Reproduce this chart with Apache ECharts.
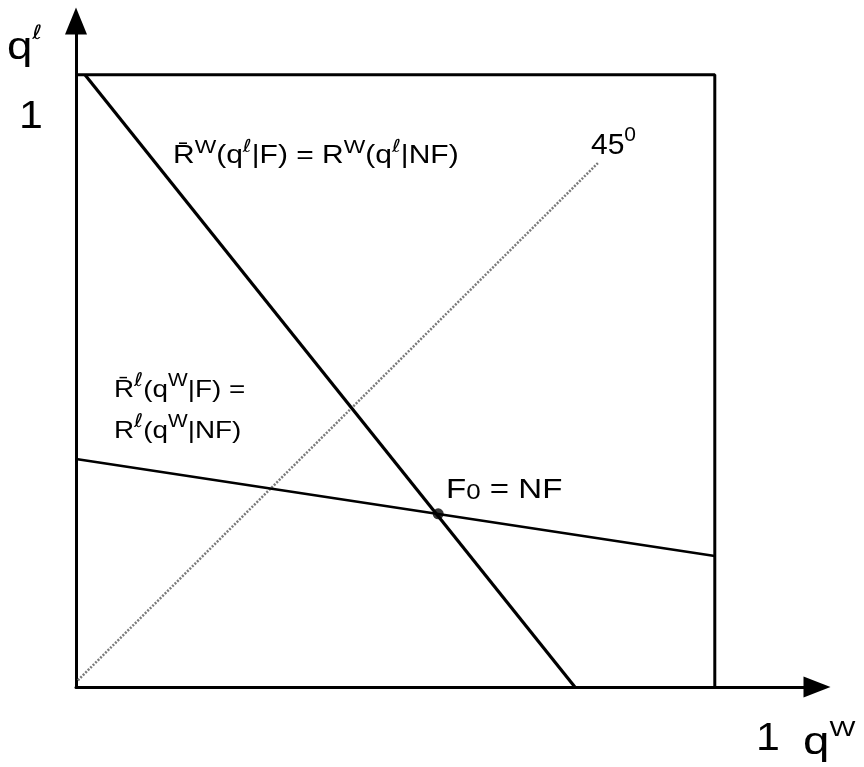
<!DOCTYPE html>
<html>
<head>
<meta charset="utf-8">
<script src="https://cdn.jsdelivr.net/npm/echarts@6/dist/echarts.min.js"></script>
<style>
    html, body { margin: 0; background: #fff; }
    #chart { width: 864px; height: 767px; }
</style>
</head>
<body>
<div id="chart"></div>
<script>
// unit box (q^w, q^l in [0,1]) and the two reaction curves
const boxEdge = [[0, 1], [1, 1], [1, 0]];
const wReaction = [[0.014, 1], [0.781, 0]];     // R^w(q^l | F) = R^w(q^l | NF)
const lReaction = [[0, 0.3725], [1, 0.214]];    // R^l(q^w | F) = R^l(q^w | NF)
const diagonal = [[0.003, 0.011], [0.817, 0.856]];  // 45 degree line
const equilibrium = [[0.567, 0.283]];           // F0 = NF
const xMax = 1.16;
const yMax = 1.088;

const FONT = "'Liberation Sans', Arial, sans-serif";
const ELL_FONT = "'DejaVu Sans', sans-serif";   // Liberation's script l is too small

// rich text styles: n = normal, s = superscript, l = superscript ell, b = subscript
function rich(size, supSize, supLH, subSize, subLH, ellSize, ellLH) {
    return {
        n: {fontSize: size, fontFamily: FONT, lineHeight: size + 6, verticalAlign: 'bottom', color: '#000'},
        s: {fontSize: supSize, fontFamily: FONT, lineHeight: supLH || supSize, verticalAlign: 'top', color: '#000'},
        l: {fontSize: ellSize || supSize, fontFamily: ELL_FONT, lineHeight: ellLH || supLH || supSize, verticalAlign: 'top', color: '#000'},
        b: {fontSize: subSize || supSize, fontFamily: FONT, lineHeight: subLH || supSize, verticalAlign: 'bottom', color: '#000'}
    };
}

// the scanned font is wider than Liberation Sans, so stretch a little
function label(x, y, text, r, sx) {
    return {
        type: 'text', x: x, y: y, scaleX: sx || 1, silent: true,
        style: {text: text, rich: r, verticalAlign: 'top', align: 'left', fill: '#000'}
    };
}

const lineSeries = (data, color, width, type) => ({
    type: 'line',
    data: data,
    showSymbol: false,
    silent: true,
    animation: false,
    lineStyle: {color: color, width: width, type: type || 'solid', cap: 'butt'}
});

const myChart = echarts.init(document.getElementById('chart'));

const options = {
    backgroundColor: '#fff',
    animation: false,
    grid: {left: 76, right: 47, top: 21, bottom: 80},
    xAxis: {
        type: 'value', min: 0, max: xMax,
        splitLine: {show: false}, axisTick: {show: false}, axisLabel: {show: false},
        axisLine: {
            show: true, onZero: false,
            symbol: ['none', 'triangle'], symbolSize: [21, 27], symbolOffset: [0, 0],
            lineStyle: {color: '#000', width: 3}
        }
    },
    yAxis: {
        type: 'value', min: 0, max: yMax,
        splitLine: {show: false}, axisTick: {show: false}, axisLabel: {show: false},
        axisLine: {
            show: true, onZero: false,
            symbol: ['none', 'triangle'], symbolSize: [22, 27], symbolOffset: [0, 0],
            lineStyle: {color: '#000', width: 3}
        }
    },
    series: [
        lineSeries(diagonal, '#7a7a7a', 2.5, [2, 1.5]),
        lineSeries(boxEdge, '#000', 3),
        lineSeries(wReaction, '#000', 3.2),
        lineSeries(lReaction, '#000', 2.6),
        {
            type: 'scatter', data: equilibrium, symbolSize: 11, silent: true,
            itemStyle: {color: '#000'}
        }
    ],
    graphic: [
        label(173, 138, '{n|R\u0304}{s|W}{n|(q}{l|ℓ}{n||F) = R}{s|W}{n|(q}{l|ℓ}{n||NF)}',
            rich(25, 19, 19, null, null, 18, 19), 1.2),
        label(114, 372, '{n|R\u0304}{l|ℓ}{n|(q}{s|W}{n||F) =}', rich(24, 18, 18, null, null, 19, 20), 1.16),
        label(114, 413, '{n|R}{l|ℓ}{n|(q}{s|W}{n||NF)}', rich(24, 18, 18, null, null, 19, 20), 1.16),
        label(591, 125, '{n|45}{s|0}', rich(30, 21, 31)),
        label(446, 470, '{n|F}{b|0}{n| = NF}', rich(28, 16, 16, 22, 17), 1.18),
        label(7, 24, '{n|q}{l|ℓ}', rich(38, 20, 28, null, null, 20, 27), 1.2),
        label(19, 92, '{n|1}', rich(39, 18), 1.1),
        label(756, 714, '{n|1}', rich(39, 18), 1.1),
        label(803, 719, '{n|q}{s|W}', rich(38, 22), 1.25)
    ]
};

myChart.setOption(options);
</script>
</body>
</html>
